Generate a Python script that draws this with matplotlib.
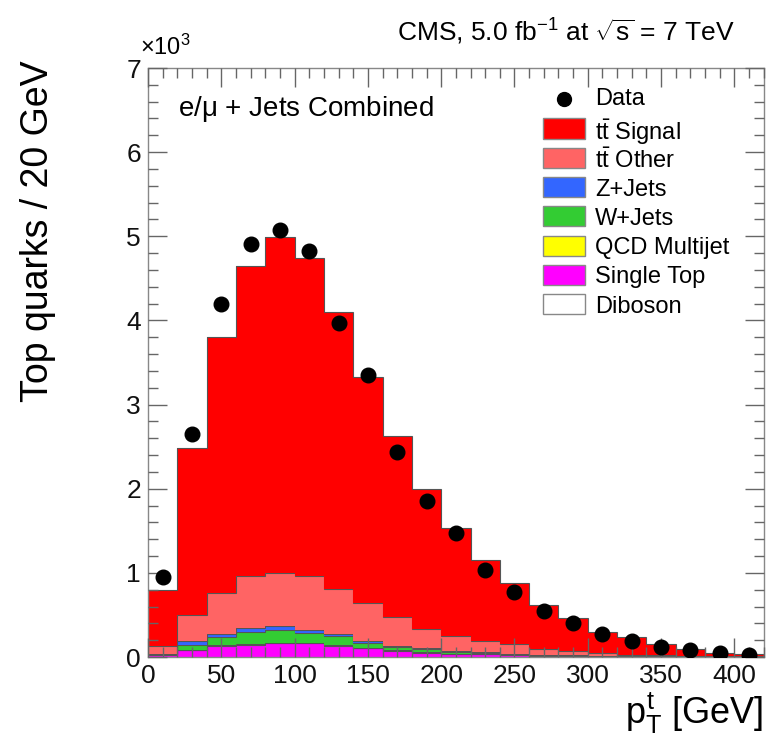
import numpy as np
import matplotlib
matplotlib.use("Agg")
import matplotlib.pyplot as plt
from matplotlib.patches import Rectangle
from matplotlib.ticker import MultipleLocator, FuncFormatter

plt.rcParams['font.family'] = ['Liberation Sans', 'DejaVu Sans']
plt.rcParams['mathtext.fontset'] = 'custom'
plt.rcParams['mathtext.rm'] = 'Liberation Sans'
plt.rcParams['mathtext.it'] = 'Liberation Sans'

# bin edges [GeV], 20 GeV bins
bin_edges = [0, 20, 40, 60, 80, 100, 120, 140, 160, 180, 200, 220,
             240, 260, 280, 300, 320, 340, 360, 380, 400, 420]

# stacked backgrounds, bottom -> top
diboson = [2, 3, 4, 4, 4, 4, 3, 3, 2, 2, 1, 1, 1, 1, 1, 0.5, 0.5, 0.5, 0.5, 0.5, 0.5]
single_top = [20, 75, 130, 142, 162, 162, 130, 103, 75, 51, 36, 30, 22, 15, 10, 7, 5, 4, 3, 2, 1]
qcd = [3, 5, 5, 5, 5, 5, 4, 3, 2, 2, 1, 1, 1, 1, 1, 0.5, 0.5, 0.5, 0.5, 0.5, 0.5]
w_jets = [10, 62, 94, 149, 145, 114, 107, 56, 38, 38, 22, 18, 12, 10, 6, 5, 3, 2, 1, 1, 1]
z_jets = [5, 40, 36, 44, 48, 31, 32, 20, 15, 12, 8, 5, 4, 3, 2, 2, 1, 1, 1, 0.5, 0.5]
tt_other = [90, 316, 490, 613, 632, 641, 529, 454, 340, 229, 178, 130, 115, 70, 55, 30, 20, 12, 10, 8, 4]
tt_signal = [670, 1982, 3045, 3687, 3998, 3787, 3298, 2694, 2150, 1658, 1285,
             970, 725, 520, 385, 255, 210, 130, 75, 40, 25]

data = [950, 2650, 4200, 4910, 5070, 4830, 3970, 3350, 2440, 1850, 1470,
        1040, 770, 550, 410, 270, 190, 115, 83, 50, 30]

components = [
    (diboson, 'white', 'Diboson'),
    (single_top, '#ff00ff', 'Single Top'),
    (qcd, '#ffff00', 'QCD Multijet'),
    (w_jets, '#33cc33', 'W+Jets'),
    (z_jets, '#3366ff', 'Z+Jets'),
    (tt_other, '#ff6464', r'$\mathrm{t\bar{t}}$ Other'),
    (tt_signal, '#ff0000', r'$\mathrm{t\bar{t}}$ Signal'),
]

fig = plt.figure(figsize=(7.66, 7.44), dpi=100)
ax = fig.add_axes([0.1932, 0.1169, 0.8038, 0.7917])

edges = np.array(bin_edges, dtype=float)
bottom = np.zeros(len(edges) - 1)
for vals, col, lab in components:
    v = np.array(vals, dtype=float)
    top = bottom + v
    ax.stairs(top, edges, baseline=bottom, fill=True, color=col, linewidth=0)
    ax.stairs(top, edges, baseline=None, color='#555555', linewidth=0.8)
    bottom = top

centers = 0.5 * (edges[:-1] + edges[1:])
ax.plot(centers, data, 'o', color='black', markersize=10.5, zorder=5)

ax.set_xlim(0, 420)
ax.set_ylim(0, 7000)

# ROOT-like ticks
ax.xaxis.set_major_locator(MultipleLocator(50))
ax.xaxis.set_minor_locator(MultipleLocator(10))
ax.yaxis.set_major_locator(MultipleLocator(1000))
ax.yaxis.set_minor_locator(MultipleLocator(200))
ax.yaxis.set_major_formatter(FuncFormatter(lambda v, p: f"{v / 1000:.0f}"))
ax.tick_params(which='both', direction='in', top=True, right=True,
               labelsize=19, color='#666666', labelcolor='#111111')
ax.tick_params(which='major', length=14, width=1, pad=5)
ax.tick_params(which='minor', length=7, width=1)
ax.set_axisbelow(False)
for s in ax.spines.values():
    s.set_color('#888888')
    s.set_linewidth(1)

fig.text(140 / 766, 1 - 47 / 744, r'$\times 10^{3}$', fontsize=17,
         ha='left', va='center')

fig.text(38 / 766, 1 - 60 / 744, 'Top quarks / 20 GeV', fontsize=27,
         rotation=90, ha='center', va='top')
ax.set_xlabel(r'$p_{T}^{t}$ [GeV]', fontsize=26, loc='right', labelpad=2)

ax.text(0.049, 0.956, r'e/$\mathrm{\mu}$ + Jets Combined', transform=ax.transAxes,
        fontsize=20, ha='left', va='top')
fig.text(735 / 766, 1 - 32 / 744, r'CMS, 5.0 fb$^{-1}$ at $\sqrt{s}$ = 7 TeV',
         fontsize=19, ha='right', va='center')

# legend drawn by hand so the rows are evenly spaced (ROOT TLegend style)
row0, row_step = 0.947, 0.0497
box_x, box_w, box_h = 0.641, 0.069, 0.034
text_x = 0.726
ax.plot([box_x + box_w / 2], [row0], 'o', color='black', markersize=10,
        transform=ax.transAxes, clip_on=False, zorder=6)
ax.text(text_x, row0, 'Data', transform=ax.transAxes, fontsize=17,
        ha='left', va='center')
for i, (vals, col, lab) in enumerate(reversed(components), start=1):
    yc = row0 - i * row_step
    ax.add_patch(Rectangle((box_x, yc - box_h / 2), box_w, box_h,
                           facecolor=col, edgecolor='#888888', linewidth=1,
                           transform=ax.transAxes, zorder=6))
    ax.text(text_x, yc, lab, transform=ax.transAxes, fontsize=17,
            ha='left', va='center_baseline')

fig.savefig('out.png', dpi=100)
